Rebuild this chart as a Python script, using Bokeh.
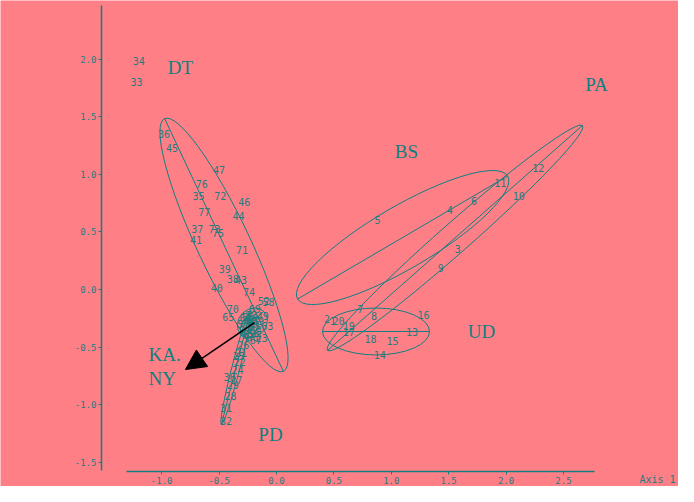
import math
from bokeh.plotting import figure
from bokeh.models import (LinearAxis, FixedTicker, Range1d, Arrow, NormalHead, Label,
                          PrintfTickFormatter)
from bokeh.core.properties import value
from bokeh.embed import file_html
from bokeh.resources import INLINE

BG = "#ff7f87"
TEAL = "#0f7f80"
LBL = "#237d7f"

# ---- point labels ----
dt_lab = ["34", "33", "36", "45", "47", "76", "35", "72", "46", "44", "77", "37", "73", "75",
          "41", "71", "39", "38", "43", "74", "40", "70", "65"]
dt_x = [-1.20, -1.22, -0.98, -0.91, -0.50, -0.65, -0.68, -0.49, -0.28, -0.33, -0.63, -0.69, -0.54, -0.51,
        -0.70, -0.30, -0.45, -0.38, -0.31, -0.24, -0.52, -0.38, -0.42]
dt_y = [1.99, 1.80, 1.35, 1.23, 1.04, 0.92, 0.81, 0.81, 0.76, 0.64, 0.67, 0.53, 0.53, 0.49,
        0.43, 0.34, 0.18, 0.09, 0.08, -0.02, 0.01, -0.17, -0.24]

kn_lab = ["48", "49", "50", "51", "52", "53", "54", "55", "56", "57", "58", "59", "60", "61",
          "62", "63", "64", "66", "67", "68", "69", "42", "23"]
kn_x = [-0.26, -0.12, -0.22, -0.27, -0.11, -0.22, -0.18, -0.25, -0.20, -0.29, -0.07, -0.16, -0.24, -0.19,
        -0.23, -0.08, -0.27, -0.21, -0.18, -0.26, -0.19, -0.21, -0.13]
kn_y = [-0.28, -0.23, -0.30, -0.33, -0.10, -0.22, -0.35, -0.24, -0.38, -0.30, -0.11, -0.27, -0.36, -0.31,
        -0.26, -0.32, -0.25, -0.41, -0.44, -0.38, -0.17, -0.27, -0.42]

pd_lab = ["26", "21", "25", "22", "24", "30", "27", "29", "28", "31", "32"]
pd_x = [-0.29, -0.31, -0.33, -0.32, -0.34, -0.41, -0.35, -0.38, -0.40, -0.44, -0.44]
pd_y = [-0.48, -0.55, -0.58, -0.63, -0.70, -0.76, -0.79, -0.83, -0.93, -1.03, -1.14]

ud_lab = ["2", "1", "20", "7", "8", "16", "19", "17", "18", "15", "13", "14"]
ud_x = [0.44, 0.49, 0.54, 0.73, 0.85, 1.28, 0.63, 0.63, 0.82, 1.01, 1.18, 0.90]
ud_y = [-0.26, -0.27, -0.27, -0.17, -0.23, -0.22, -0.32, -0.37, -0.43, -0.45, -0.37, -0.57]

bp_lab = ["5", "4", "6", "11", "12", "10", "3", "9"]
bp_x = [0.88, 1.51, 1.72, 1.95, 2.28, 2.11, 1.58, 1.43]
bp_y = [0.60, 0.69, 0.77, 0.93, 1.06, 0.81, 0.35, 0.19]

# ---- group ellipses: centre, semi-axes, angle (rad) ----
ell_name = ["DT", "BS", "PA", "UD", "PD", "KA", "NY"]
ell_cx = [-0.457, 1.099, 1.555, 0.867, -0.353, -0.21, -0.24]
ell_cy = [0.387, 0.452, 0.448, -0.365, -0.678, -0.29, -0.33]
ell_a = [1.216, 1.06, 1.48, 0.466, 0.512, 0.14, 0.10]
ell_b = [0.23, 0.27, 0.13, 0.204, 0.035, 0.12, 0.07]
ell_ang = [-1.131, 0.529, 0.722, 0.0, 1.320, 0.8, 1.2]

# ---- group names ----
grp_text = ["DT", "BS", "PA", "UD", "PD", "KA.", "NY"]
grp_x = [-0.836, 1.132, 2.787, 1.786, -0.052, -1.115, -1.115]
grp_y = [1.930, 1.200, 1.783, -0.365, -1.261, -0.565, -0.774]
grp_align = ["center", "center", "center", "center", "center", "left", "left"]

# ---- arrow ----
arrow_x = [-0.192, -0.793]
arrow_y = [-0.287, -0.696]

x_ticks = [-1.0, -0.5, 0.0, 0.5, 1.0, 1.5, 2.0, 2.5]
y_ticks = [-1.5, -1.0, -0.5, 0.0, 0.5, 1.0, 1.5, 2.0]

p = figure(width=678, height=486, output_backend="svg", toolbar_location=None,
           x_range=Range1d(-2.404, 3.502), y_range=Range1d(-1.713, 2.513),
           x_axis_type=None, y_axis_type=None, min_border=0,
           background_fill_color=BG, border_fill_color=BG, outline_line_color=None)

# axes
yax = LinearAxis(fixed_location=-1.524, bounds=(-1.57, 2.47),
                 ticker=FixedTicker(ticks=y_ticks), formatter=PrintfTickFormatter(format="%.1f"))
xax = LinearAxis(fixed_location=-1.583, bounds=(-1.307, 2.77),
                 ticker=FixedTicker(ticks=x_ticks), formatter=PrintfTickFormatter(format="%.1f"))
for ax in (yax, xax):
    ax.axis_line_color = TEAL
    ax.axis_line_width = 1.5
    ax.major_tick_line_color = TEAL
    ax.major_tick_in = 0
    ax.major_tick_out = 3
    ax.minor_tick_line_color = None
    ax.major_label_text_color = LBL
    ax.major_label_text_font = "DejaVu Sans Mono"
    ax.major_label_text_font_size = "9px"
    ax.major_label_standoff = 2
p.add_layout(yax, "left")
p.add_layout(xax, "below")

# ellipses
p.ellipse(x=ell_cx, y=ell_cy, width=[2 * a for a in ell_a], height=[2 * b for b in ell_b],
          angle=ell_ang, fill_color=None, line_color=TEAL, line_width=1)
x0 = [c - a * math.cos(t) for c, a, t in zip(ell_cx, ell_a, ell_ang)]
x1 = [c + a * math.cos(t) for c, a, t in zip(ell_cx, ell_a, ell_ang)]
y0 = [c - a * math.sin(t) for c, a, t in zip(ell_cy, ell_a, ell_ang)]
y1 = [c + a * math.sin(t) for c, a, t in zip(ell_cy, ell_a, ell_ang)]
p.segment(x0=x0, y0=y0, x1=x1, y1=y1, line_color=TEAL, line_width=1)

# point labels
for lab, xs, ys in ((dt_lab, dt_x, dt_y), (kn_lab, kn_x, kn_y), (pd_lab, pd_x, pd_y),
                    (ud_lab, ud_x, ud_y), (bp_lab, bp_x, bp_y)):
    p.text(x=xs, y=ys, text=lab, text_font=value("DejaVu Sans Mono"), text_font_size="10px",
           text_align="center", text_baseline="middle", text_color=LBL)

# group names
p.text(x=grp_x, y=grp_y, text=grp_text, text_align=grp_align,
       text_font=value("Liberation Serif"), text_font_size="19px",
       text_baseline="middle", text_color=TEAL)

# arrow
p.add_layout(Arrow(end=NormalHead(size=20, fill_color="black", line_color="black"),
                   x_start=arrow_x[0], y_start=arrow_y[0], x_end=arrow_x[1], y_end=arrow_y[1],
                   line_color="black", line_width=1.5))

p.add_layout(Label(x=3.162, y=-1.70, text="Axis 1", text_font="DejaVu Sans Mono",
                   text_font_size="10px", text_color=LBL, text_baseline="bottom"))

open("out.html", "w").write(file_html(p, INLINE))
